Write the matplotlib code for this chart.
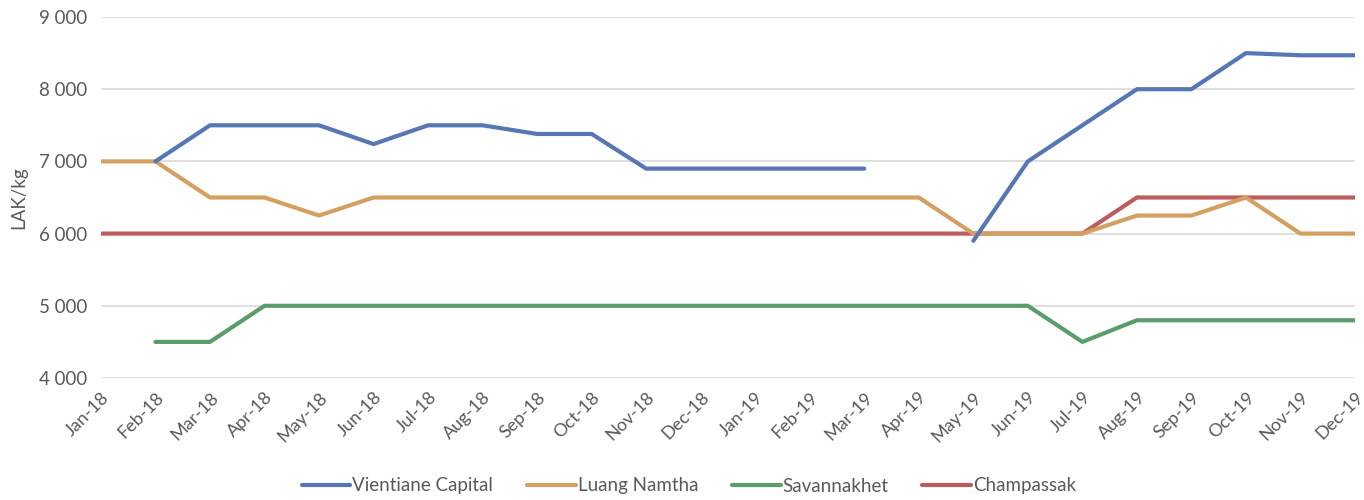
import matplotlib.pyplot as plt
import numpy as np

nan = np.nan

months = ['Jan-18', 'Feb-18', 'Mar-18', 'Apr-18', 'May-18', 'Jun-18', 'Jul-18', 'Aug-18',
          'Sep-18', 'Oct-18', 'Nov-18', 'Dec-18', 'Jan-19', 'Feb-19', 'Mar-19', 'Apr-19',
          'May-19', 'Jun-19', 'Jul-19', 'Aug-19', 'Sep-19', 'Oct-19', 'Nov-19', 'Dec-19']

vientiane = [nan, 7000, 7500, 7500, 7500, 7240, 7500, 7500, 7380, 7380, 6900, 6900,
             6900, 6900, 6900, nan, 5900, 7000, 7500, 8000, 8000, 8500, 8470, 8470]
luang_namtha = [7000, 7000, 6500, 6500, 6250, 6500, 6500, 6500, 6500, 6500, 6500, 6500,
                6500, 6500, 6500, 6500, 6000, 6000, 6000, 6250, 6250, 6500, 6000, 6000]
savannakhet = [nan, 4500, 4500, 5000, 5000, 5000, 5000, 5000, 5000, 5000, 5000, 5000,
               5000, 5000, 5000, 5000, 5000, 5000, 4500, 4800, 4800, 4800, 4800, 4800]
champassak = [6000, 6000, 6000, 6000, 6000, 6000, 6000, 6000, 6000, 6000, 6000, 6000,
              6000, 6000, 6000, 6000, 6000, 6000, 6000, 6500, 6500, 6500, 6500, 6500]

series = [
    ('Vientiane Capital', vientiane, '#5677B4'),
    ('Luang Namtha', luang_namtha, '#D3A062'),
    ('Savannakhet', savannakhet, '#5B9D6A'),
    ('Champassak', champassak, '#BD5C5F'),
]

plt.rcParams['font.family'] = ['Lato', 'DejaVu Sans']
text_color = '#595959'

fig = plt.figure(figsize=(13.64, 5), dpi=100)
ax = fig.add_axes([0.074, 0.244, 0.9194, 0.722])

x = np.arange(len(months))
# draw in reverse so Vientiane sits on top
for name, vals, color in reversed(series):
    ax.plot(x, vals, color=color, lw=3, label=name, solid_capstyle='round',
            solid_joinstyle='round')

ax.set_xlim(0, len(months) - 1)
ax.set_ylim(4000, 9000)
ax.set_yticks(range(4000, 9001, 1000))
ax.set_yticklabels([f'{v:,}'.replace(',', ' ') for v in range(4000, 9001, 1000)])
ax.set_xticks(x)
ax.set_xticklabels(months, rotation=45, ha='right', rotation_mode='anchor')
ax.tick_params(axis='y', length=0, labelsize=13.5, colors=text_color, pad=10)
ax.tick_params(axis='x', length=0, labelsize=13, colors=text_color, pad=8)
ax.grid(axis='y', color='#D9D9D9', lw=1.2)
ax.set_axisbelow(True)
for s in ax.spines.values():
    s.set_visible(False)
ax.set_ylabel('LAK/kg', fontsize=13.5, color=text_color, labelpad=8)

handles, labels = ax.get_legend_handles_labels()
fig.legend(handles[::-1], labels[::-1], loc='center', bbox_to_anchor=(0.505, 0.028),
           ncol=4, frameon=False, fontsize=13.5, labelcolor=text_color,
           handlelength=2.6, handletextpad=0.1, columnspacing=1.8)

fig.savefig('out.png', dpi=100)
